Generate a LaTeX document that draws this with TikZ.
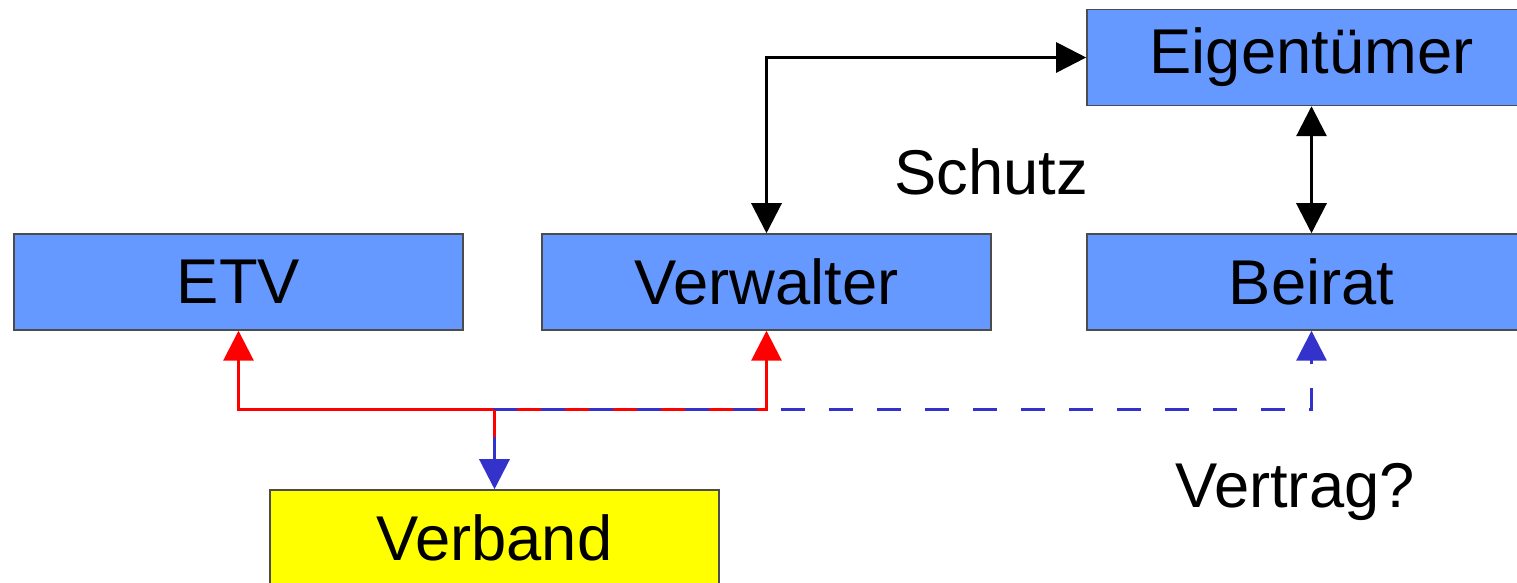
\documentclass[tikz,border=0pt]{standalone}
\usepackage{fontspec}
\setmainfont{Liberation Sans}
\usepackage{xcolor}
\definecolor{colorBox}{HTML}{6699FF}
\definecolor{colorVerband}{HTML}{FFFF00}
\definecolor{colorVertrag}{HTML}{3333CC}
\usetikzlibrary{arrows.meta, positioning}
\tikzset{
  box/.style={draw=black!70, line width=0.4pt, fill=colorBox, minimum width=4.49cm, minimum height=0.96cm, inner sep=0pt, font=\fontsize{18}{22}\selectfont},
  label text/.style={font=\fontsize{18}{22}\selectfont, inner sep=0pt},
  link/.style={line width=0.85pt, {Triangle[length=3mm,width=3mm]}-{Triangle[length=3mm,width=3mm]}}
}

\begin{document}
\begin{tikzpicture}[x=0.01cm, y=-0.01cm]
\useasboundingbox (0,0) rectangle (1517,583);
\node[box] (etv) at (238.5,282) {ETV};
\node[box] (vw) at (766.5,282) {Verwalter};
\node[box] (bei) at (1311.5,282) {Beirat};
\node[box] (eig) at (1311.5,57.5) {Eigent\"umer};
\node[box, fill=colorVerband] (vb) at (494.5,538) {Verband};
\node[label text] (schutz) at (991,172) {Schutz};
\node[label text] (vertrag) at (1295,492) {Vertrag?};
\coordinate (jn) at (494.5,410);
\coordinate (jnred) at (494.5,437);
% Verwalter und Eigentuemer
\draw [link, black] (vw.north) |- (eig.west);
\draw [link, black] (eig.south) -- (bei.north);
% ETV -- Verwalter
\draw [link, red] (etv.south) |- (jn) -| (vw.south);
% Verband -- Beirat
\draw [link, colorVertrag, dash pattern=on 0.24cm off 0.24cm] (vb.north) -- (jn) -| (bei.south);
\draw [line width=0.85pt, red] (jn) -- (jnred);
\end{tikzpicture}
\end{document}
